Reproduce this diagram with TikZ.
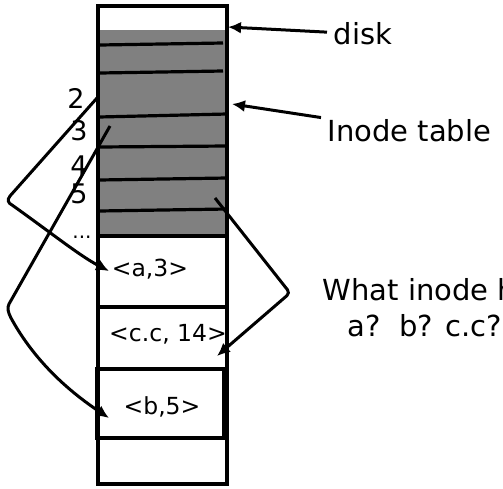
\documentclass[tikz,border=0pt]{standalone}
\usepackage{fontspec}
\setmainfont{DejaVu Sans}
\usepackage{tikz}
\usetikzlibrary{positioning}
\usetikzlibrary{arrows.meta}
\pgfdeclarelayer{nodelayer}
\pgfdeclarelayer{edgelayer}
\pgfsetlayers{nodelayer,edgelayer,main}
\tikzset{
    lbl/.style={font=\fontsize{29}{33}\selectfont, anchor=west, inner sep=5pt},
    entry/.style={font=\fontsize{23.5}{27}\selectfont, inner sep=0pt},
    num/.style={font=\fontsize{27}{31}\selectfont, inner sep=0pt},
    ptr/.style={line width=3pt, -{Latex[length=13pt,width=12pt]}}
}

\begin{document}
\begin{tikzpicture}[x=1pt, y=-1pt]
        \useasboundingbox (0,0) rectangle (503,488);
        \begin{pgfonlayer}{nodelayer}
        \begin{scope}[line width=3.2pt]
            \fill [gray] (98,30) rectangle (227,236);
            \draw (98,6) rectangle (227,484);
            \draw (100,45) to (223,43);
            \draw (100,73) to (223,71);
            \draw (99,117) to (227,114);
            \draw (99,147) to (227,146);
            \draw (99,180) to (227,178);
            \draw (99,211) to (227,209);
            \draw [line width=4.5pt] (98,236) to (227,236);
            \draw (98,307) to (227,307);
            \draw (98,369) to (227,369);
            \draw (97,369) rectangle (224,438);
            \draw [line width=4.5pt] (97,369) to (97,438);
            \node [entry] (0) at (150,269) {<a,3>};
            \node [entry] (1) at (168,334) {<c.c, 14>};
            \node [entry] (2) at (162,407) {<b,5>};
            \node [num] (3) at (76,98) {2};
            \node [num] (4) at (79,131) {3};
            \node [num] (5) at (79,166) {4};
            \node [num] (6) at (79,194) {5};
            \node [entry, font=\fontsize{20}{22}\selectfont] (7) at (82,237) {...};
            \node [lbl] (8) at (327,34) {disk};
            \node [lbl] (9) at (321,131) {Inode table};
            \node [lbl, inner sep=0pt] (10) at (321,290) {What inode h};
            \node [lbl, inner sep=0pt] (11) at (346,326) {a?\ \ b? c.c?};
            \coordinate (12) at (228,27);
            \coordinate (13) at (232,104);
            \coordinate (14) at (97,98);
            \coordinate (15) at (109,271);
            \coordinate (16) at (110,126);
            \coordinate (17) at (109,418);
            \coordinate (18) at (215,198);
            \coordinate (19) at (217,356);
        \end{scope}
        \end{pgfonlayer}
        \begin{pgfonlayer}{edgelayer}
            \draw [ptr] (8) to (12);
            \draw [ptr] (9) to (13);
            \draw [ptr] (14) to (10,196) .. controls (7,200) and (8,203) .. (12,205) .. controls (50,232) and (80,256) .. (15);
            \draw [ptr] (16) to (9,304) .. controls (7,308) and (8,312) .. (11,318) .. controls (35,362) and (70,392) .. (17);
            \draw [ptr, rounded corners=4pt] (18) to (290,293) to (19);
        \end{pgfonlayer}
    \end{tikzpicture}
\end{document}
